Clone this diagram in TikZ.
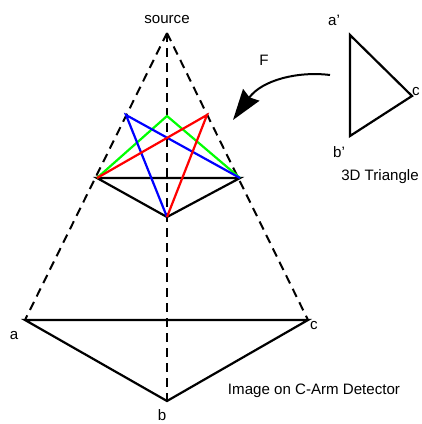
\documentclass[tikz,border=0pt]{standalone}
\usepackage{fontspec}
\setmainfont{Liberation Sans}
\usetikzlibrary{arrows.meta}

\begin{document}
\begin{tikzpicture}[
    x=1pt, y=-1pt, >=Stealth,
    lbl/.style={font=\fontsize{15.1}{17}\selectfont, inner sep=0pt, text=black},
    ray/.style={line width=2pt, dash pattern=on 9pt off 6pt},
    edge/.style={line width=2.2pt},
    proj/.style={line width=2.2pt}
  ]
  \useasboundingbox (0,0) rectangle (422,424);

  % detector image and source
  \coordinate (src) at (167,33);
  \coordinate (a) at (25,320);
  \coordinate (b) at (167,401);
  \coordinate (c) at (308,320);

  % inner projection
  \coordinate (pl) at (97,178);
  \coordinate (pr) at (240,178);
  \coordinate (pb) at (167,217);
  \coordinate (topblue) at (126,115);
  \coordinate (topgreen) at (167,116);
  \coordinate (topred) at (207,115);

  % 3d triangle
  \coordinate (ta) at (350,35);
  \coordinate (tb) at (350,136);
  \coordinate (tc) at (412,96);

  % arrow ends
  \coordinate (fstart) at (330,75);
  \coordinate (fend) at (233,120);

  \draw[ray] (src) -- (a);
  \draw[ray] (src) -- (c);
  \draw[ray] (src) -- (b);

  \draw[edge] (a) -- (c) -- (b) -- cycle;
  \draw[edge] (pl) -- (pr) -- (pb) -- cycle;

  \draw[proj, green] (pl) -- (topgreen) -- (pr);
  \draw[proj, blue] (pb) -- (topblue) -- (pr);
  \draw[proj, red] (pl) -- (topred) -- (pb);

  \draw[edge] (ta) -- (tc) -- (tb) -- cycle;
  \draw[line width=2pt, arrows={-Stealth[length=31pt, width=20pt, inset=3pt]}] (fstart)
    .. controls (298,71) and (262,80) .. (fend);

  \node[lbl] (srclbl) at (167,20) {source};
  \node[lbl] (albl) at (14,336) {a};
  \node[lbl] (blbl) at (162,415) {b};
  \node[lbl] (clbl) at (314,326) {c};
  \node[lbl] (talbl) at (334,20) {a'};
  \node[lbl] (tblbl) at (339,152) {b'};
  \node[lbl] (tclbl) at (416,92) {c};
  \node[lbl] (flbl) at (264,60) {F};
  \node[lbl] (tri3d) at (380,177) {3D Triangle};
  \node[lbl] (detector) at (314,391) {Image on C-Arm Detector};
\end{tikzpicture}
\end{document}
